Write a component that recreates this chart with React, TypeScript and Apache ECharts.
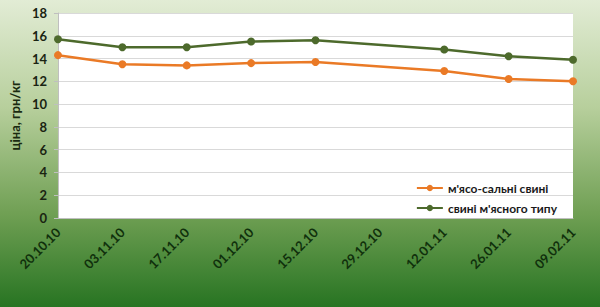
import React, { useEffect, useRef } from "react";
import * as echarts from "echarts";

const categories = ["20.10.10", "03.11.10", "17.11.10", "01.12.10", "15.12.10", "29.12.10", "12.01.11", "26.01.11", "09.02.11"];
const meatFat = [14.3, 13.5, 13.4, 13.6, 13.7, null, 12.9, 12.2, 12.0];
const meatType = [15.7, 15.0, 15.0, 15.5, 15.6, null, 14.8, 14.2, 13.9];
const seriesNames = ["м'ясо-сальні свині", "свині м'ясного типу"];
const yTicks = { min: 0, max: 18, interval: 2 };

const FONT = "Lato, 'Noto Sans', sans-serif";

export default function App() {
  const ref = useRef<HTMLDivElement>(null);
  useEffect(() => {
    if (!ref.current) return;
    const chart = echarts.init(ref.current, undefined, { renderer: "svg" });
    chart.setOption({
      animation: false,
      backgroundColor: new echarts.graphic.LinearGradient(0, 0, 0, 1, [
        { offset: 0, color: "#e2ecd5" },
        { offset: 0.35, color: "#b7cf9c" },
        { offset: 0.7, color: "#6f9f53" },
        { offset: 1, color: "#277422" },
      ]),
      textStyle: { fontFamily: FONT },
      grid: {
        left: 52,
        right: 27,
        top: 13,
        bottom: 89,
        show: true,
        backgroundColor: "#ffffff",
        borderWidth: 0,
        containLabel: false,
      },
      legend: {
        orient: "vertical",
        right: 38,
        top: 177,
        itemGap: 8,
        itemWidth: 26,
        itemHeight: 8,
        data: seriesNames,
        textStyle: { fontFamily: FONT, fontWeight: "bold", fontSize: 12, color: "#1a1a1a" },
      },
      xAxis: {
        type: "category",
        data: categories,
        boundaryGap: false,
        axisLine: { show: true, lineStyle: { color: "#bfbfbf" } },
        axisTick: { show: false },
        axisLabel: {
          rotate: 45,
          fontFamily: FONT,
          fontWeight: "bold",
          fontSize: 13,
          color: "#10300c",
          margin: 12,
          interval: 0,
        },
      },
      yAxis: {
        type: "value",
        min: yTicks.min,
        max: yTicks.max,
        interval: yTicks.interval,
        name: "ціна, грн/кг",
        nameLocation: "middle",
        nameGap: 36,
        nameRotate: 90,
        nameTextStyle: { fontFamily: FONT, fontWeight: "bold", fontSize: 13, color: "#1a2a10" },
        axisLine: { show: true, lineStyle: { color: "#bfbfbf" } },
        axisTick: { show: true, length: 4, lineStyle: { color: "#bfbfbf" } },
        splitLine: { lineStyle: { color: "#d9d9d9" } },
        axisLabel: {
          fontFamily: FONT,
          fontWeight: "bold",
          fontSize: 13,
          color: "#1a2412",
          margin: 11,
        },
      },
      series: [
        {
          name: seriesNames[0],
          type: "line",
          data: meatFat,
          connectNulls: true,
          symbol: "circle",
          symbolSize: 8,
          lineStyle: { color: "#ea7a26", width: 2.5 },
          itemStyle: { color: "#ea7a26" },
        },
        {
          name: seriesNames[1],
          type: "line",
          data: meatType,
          connectNulls: true,
          symbol: "circle",
          symbolSize: 8,
          lineStyle: { color: "#4d6a2c", width: 2.5 },
          itemStyle: { color: "#4d6a2c" },
        },
      ],
    });
    return () => chart.dispose();
  }, []);
  return (
    <div
      ref={ref}
      style={{ position: "fixed", left: 0, top: 0, width: 600, height: 307 }}
    />
  );
}
